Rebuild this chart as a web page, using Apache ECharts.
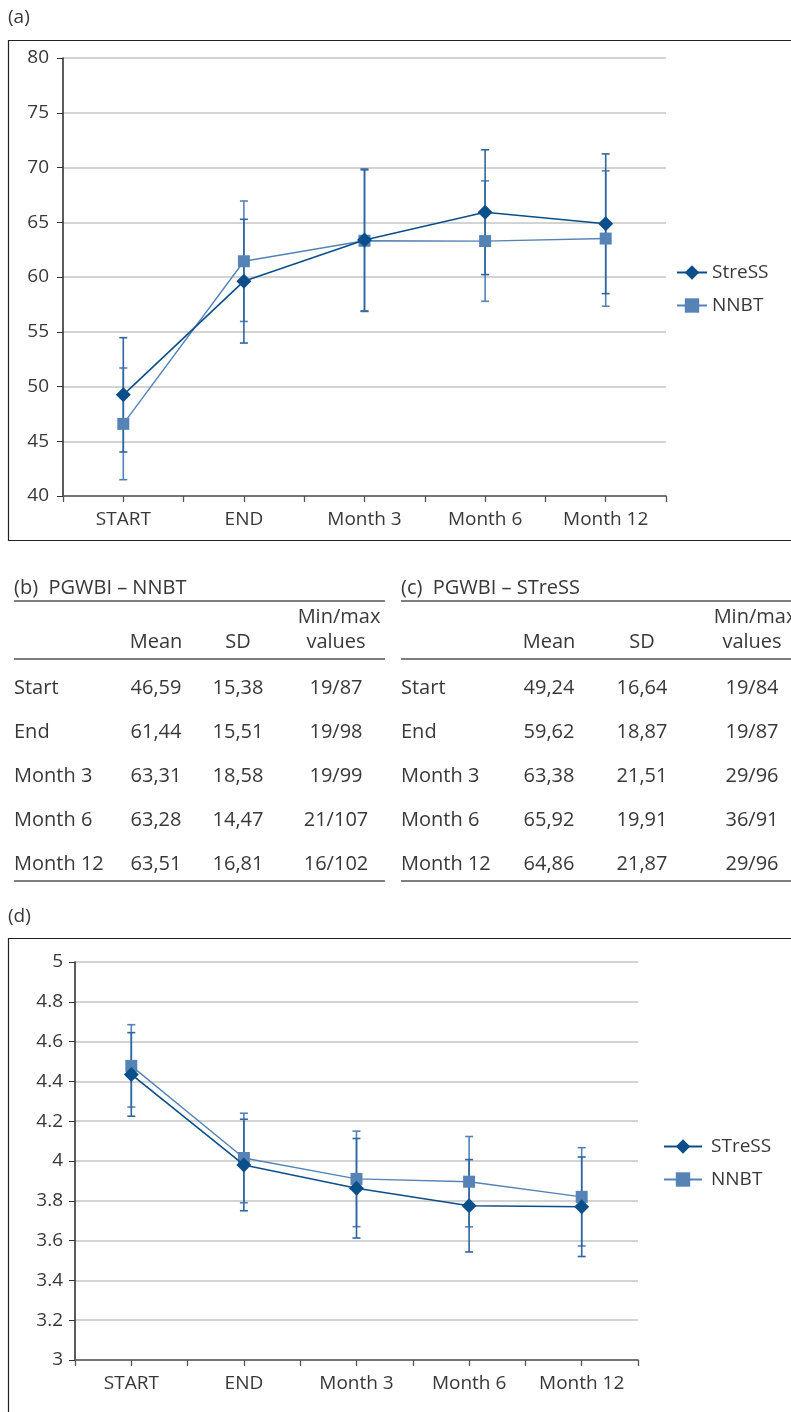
<!DOCTYPE html>
<html>
<head>
<meta charset="utf-8">
<script src="https://cdn.jsdelivr.net/npm/echarts@6/dist/echarts.min.js"></script>
<style>
html,body{margin:0;padding:0;background:#fff;}
#c{width:791px;height:1412px;}
</style>
</head>
<body>
<div id="c"></div>
<script>
// ---- data ----
const categories = ['START', 'END', 'Month 3', 'Month 6', 'Month 12'];
// panel (a): PGWBI
const pgwbiStress = [49.24, 59.62, 63.38, 65.92, 64.86];
const pgwbiStressErr = [5.22, 5.65, 6.48, 5.70, 6.38];
const pgwbiNnbt = [46.59, 61.44, 63.31, 63.28, 63.51];
const pgwbiNnbtErr = [5.10, 5.50, 6.46, 5.50, 6.18];
// panel (d)
const scaleStress = [4.435, 3.98, 3.863, 3.775, 3.77];
const scaleStressErr = [0.21, 0.23, 0.25, 0.232, 0.25];
const scaleNnbt = [4.478, 4.015, 3.91, 3.896, 3.82];
const scaleNnbtErr = [0.207, 0.225, 0.24, 0.227, 0.247];
// tables (b) and (c)
const rowLabels = ['Start', 'End', 'Month 3', 'Month 6', 'Month 12'];
const nnbtMean = ['46,59', '61,44', '63,31', '63,28', '63,51'];
const nnbtSD = ['15,38', '15,51', '18,58', '14,47', '16,81'];
const nnbtMinMax = ['19/87', '19/98', '19/99', '21/107', '16/102'];
const stressMean = ['49,24', '59,62', '63,38', '65,92', '64,86'];
const stressSD = ['16,64', '18,87', '21,51', '19,91', '21,87'];
const stressMinMax = ['19/84', '19/87', '29/96', '36/91', '29/96'];

// ---- styles ----
const FONT = 'Open Sans';
const TXT = '#383838';
const DARK = '#0b4f8a';
const LIGHT = '#5583b6';

function errData(vals, errs) {
  return vals.map((v, i) => [i, v - errs[i], v + errs[i]]);
}
function errRender(color) {
  return function (params, api) {
    const x = api.value(0);
    const lo = api.coord([x, api.value(1)]);
    const hi = api.coord([x, api.value(2)]);
    const w = 4;
    const st = { stroke: color, lineWidth: 1.6 };
    return {
      type: 'group',
      children: [
        { type: 'line', shape: { x1: lo[0], y1: lo[1], x2: hi[0], y2: hi[1] }, style: st },
        { type: 'line', shape: { x1: lo[0] - w, y1: lo[1], x2: lo[0] + w, y2: lo[1] }, style: st },
        { type: 'line', shape: { x1: hi[0] - w, y1: hi[1], x2: hi[0] + w, y2: hi[1] }, style: st }
      ]
    };
  };
}

function catAxis(grid) {
  return {
    type: 'category', gridIndex: grid, data: categories, boundaryGap: true,
    axisLine: { show: true, lineStyle: { color: '#555', width: 1.6 } },
    axisTick: { show: false },
    axisLabel: { color: TXT, fontFamily: FONT, fontSize: 19, margin: 14 },
    splitLine: { show: false }
  };
}
function tickAxis(grid) {
  return {
    type: 'value', gridIndex: grid, min: 0, max: 10, interval: 1, position: 'bottom',
    axisLine: { show: false },
    axisTick: { show: true, length: 6, lineStyle: { color: '#555', width: 1.3 } },
    axisLabel: { show: false }, splitLine: { show: false }
  };
}

const graphics = [];
// panel frames and labels
graphics.push({ type: 'text', left: 8, top: 8, style: { text: '(a)', font: '19px "' + FONT + '"', fill: TXT } });
graphics.push({ type: 'rect', shape: { x: 8.5, y: 40.5, width: 800, height: 500 }, style: { fill: 'none', stroke: '#222', lineWidth: 1.2 } });
graphics.push({ type: 'text', left: 8, top: 907, style: { text: '(d)', font: '19px "' + FONT + '"', fill: TXT } });
graphics.push({ type: 'rect', shape: { x: 8.5, y: 938.5, width: 800, height: 520 }, style: { fill: 'none', stroke: '#222', lineWidth: 1.2 } });

function addTable(x0, x1, title, means, sds, mm, colMean, colSD, colMM) {
  const f = '20px "' + FONT + '"';
  graphics.push({ type: 'text', x: x0, y: 588, style: { text: title, font: f, fill: TXT, verticalAlign: 'middle' } });
  graphics.push({ type: 'line', shape: { x1: x0, y1: 601, x2: x1, y2: 601 }, style: { stroke: '#555', lineWidth: 1.5 } });
  graphics.push({ type: 'text', x: colMM + 3, y: 617, style: { text: 'Min/max', font: f, fill: TXT, align: 'center', verticalAlign: 'middle' } });
  graphics.push({ type: 'text', x: colMM, y: 642, style: { text: 'values', font: f, fill: TXT, align: 'center', verticalAlign: 'middle' } });
  graphics.push({ type: 'text', x: colMean, y: 642, style: { text: 'Mean', font: f, fill: TXT, align: 'center', verticalAlign: 'middle' } });
  graphics.push({ type: 'text', x: colSD, y: 642, style: { text: 'SD', font: f, fill: TXT, align: 'center', verticalAlign: 'middle' } });
  graphics.push({ type: 'line', shape: { x1: x0, y1: 659, x2: x1, y2: 659 }, style: { stroke: '#555', lineWidth: 1.5 } });
  rowLabels.forEach((r, i) => {
    const y = 688 + i * 44;
    graphics.push({ type: 'text', x: x0, y: y, style: { text: r, font: f, fill: TXT, verticalAlign: 'middle' } });
    graphics.push({ type: 'text', x: colMean, y: y, style: { text: means[i], font: f, fill: TXT, align: 'center', verticalAlign: 'middle' } });
    graphics.push({ type: 'text', x: colSD, y: y, style: { text: sds[i], font: f, fill: TXT, align: 'center', verticalAlign: 'middle' } });
    graphics.push({ type: 'text', x: colMM, y: y, style: { text: mm[i], font: f, fill: TXT, align: 'center', verticalAlign: 'middle' } });
  });
  graphics.push({ type: 'line', shape: { x1: x0, y1: 881, x2: x1, y2: 881 }, style: { stroke: '#555', lineWidth: 1.5 } });
}
addTable(14, 385, '(b)  PGWBI \u2013 NNBT', nnbtMean, nnbtSD, nnbtMinMax, 156, 238, 336);
addTable(401, 800, '(c)  PGWBI \u2013 STreSS', stressMean, stressSD, stressMinMax, 549, 642, 752);

const chart = echarts.init(document.getElementById('c'), null, { renderer: 'canvas' });
chart.setOption({
  animation: false,
  backgroundColor: '#fff',
  textStyle: { fontFamily: FONT },
  grid: [
    { left: 63, top: 58, width: 603, height: 438 },
    { left: 75, top: 962, width: 563, height: 398 }
  ],
  xAxis: [catAxis(0), tickAxis(0), catAxis(1), tickAxis(1)],
  yAxis: [
    {
      type: 'value', gridIndex: 0, min: 40, max: 80, interval: 5,
      axisLine: { show: true, lineStyle: { color: '#333', width: 1.6 } },
      axisTick: { show: true, length: 6, lineStyle: { color: '#333' } },
      axisLabel: { color: TXT, fontFamily: FONT, fontSize: 19, margin: 14 },
      splitLine: { show: true, lineStyle: { color: '#c4c4c4', width: 1.5 } }
    },
    {
      type: 'value', gridIndex: 1, min: 3, max: 5, interval: 0.2,
      axisLine: { show: true, lineStyle: { color: '#333', width: 1.6 } },
      axisTick: { show: true, length: 6, lineStyle: { color: '#333' } },
      axisLabel: { color: TXT, fontFamily: FONT, fontSize: 19, margin: 12 },
      splitLine: { show: true, lineStyle: { color: '#c4c4c4', width: 1.5 } }
    }
  ],
  legend: [
    {
      data: ['StreSS', 'NNBT'], orient: 'vertical', left: 676, top: 263, padding: 0,
      itemWidth: 30, itemHeight: 18, itemGap: 14,
      textStyle: { color: TXT, fontFamily: FONT, fontSize: 19 }
    },
    {
      data: ['STreSS', 'NNBT '], orient: 'vertical', left: 663, top: 1137, padding: 0,
      itemWidth: 38, itemHeight: 18, itemGap: 14,
      textStyle: { color: TXT, fontFamily: FONT, fontSize: 19, padding: [0, 0, 0, 4] }
    }
  ],
  series: [
    { type: 'custom', xAxisIndex: 0, yAxisIndex: 0, renderItem: errRender(LIGHT), data: errData(pgwbiNnbt, pgwbiNnbtErr), encode: { x: 0, y: [1, 2] }, z: 1, silent: true },
    { type: 'custom', xAxisIndex: 0, yAxisIndex: 0, renderItem: errRender('#2f66a0'), data: errData(pgwbiStress, pgwbiStressErr), encode: { x: 0, y: [1, 2] }, z: 1, silent: true },
    { name: 'NNBT', type: 'line', xAxisIndex: 0, yAxisIndex: 0, data: pgwbiNnbt, symbol: 'rect', symbolSize: 12,
      itemStyle: { color: LIGHT }, lineStyle: { color: LIGHT, width: 1.4 }, z: 3 },
    { name: 'StreSS', type: 'line', xAxisIndex: 0, yAxisIndex: 0, data: pgwbiStress, symbol: 'diamond', symbolSize: 15,
      itemStyle: { color: DARK }, lineStyle: { color: DARK, width: 1.6 }, z: 4 },

    { type: 'custom', xAxisIndex: 2, yAxisIndex: 1, renderItem: errRender(LIGHT), data: errData(scaleNnbt, scaleNnbtErr), encode: { x: 0, y: [1, 2] }, z: 1, silent: true },
    { type: 'custom', xAxisIndex: 2, yAxisIndex: 1, renderItem: errRender('#2f66a0'), data: errData(scaleStress, scaleStressErr), encode: { x: 0, y: [1, 2] }, z: 1, silent: true },
    { name: 'NNBT ', type: 'line', xAxisIndex: 2, yAxisIndex: 1, data: scaleNnbt, symbol: 'rect', symbolSize: 12,
      itemStyle: { color: LIGHT }, lineStyle: { color: LIGHT, width: 1.4 }, z: 3 },
    { name: 'STreSS', type: 'line', xAxisIndex: 2, yAxisIndex: 1, data: scaleStress, symbol: 'diamond', symbolSize: 15,
      itemStyle: { color: DARK }, lineStyle: { color: DARK, width: 1.6 }, z: 4 }
  ],
  graphic: graphics
});
</script>
</body>
</html>
